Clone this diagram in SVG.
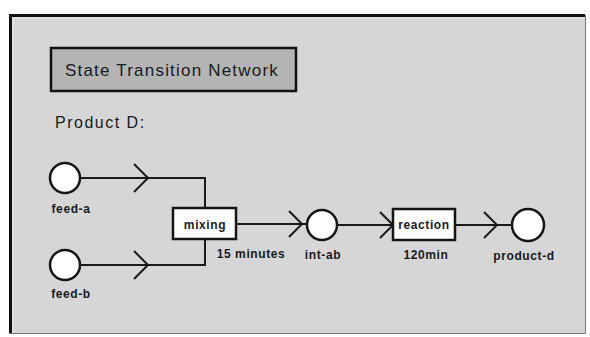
<svg xmlns="http://www.w3.org/2000/svg" width="590" height="337" viewBox="0 0 590 337">
<style>
  .lbl{font-family:"Liberation Sans",Arial,sans-serif;font-weight:bold;font-size:12px;fill:#1a1a1a;text-anchor:middle;letter-spacing:0.6px}
  .node{fill:#fff;stroke:#151515;stroke-width:2.5}
  .box{fill:#fff;stroke:#151515;stroke-width:2.5}
  .wire{fill:none;stroke:#1a1a1a;stroke-width:2}
  .chev{fill:none;stroke:#1a1a1a;stroke-width:2;stroke-linejoin:miter}
</style>
<rect x="0" y="0" width="590" height="337" fill="#ffffff"/>
<rect id="panel" x="9" y="14" width="576" height="319" fill="#d6d6d6"/>
<path d="M10.5,333 L10.5,15.5 L585,15.5" fill="none" stroke="#111" stroke-width="3"/>
<path d="M13,333 L13,18 L585,18" fill="none" stroke="#ececec" stroke-width="1"/>
<path d="M585.5,15 L585.5,333.5 L9,333.5" fill="none" stroke="#777" stroke-width="1"/>

<g id="title">
  <rect x="51" y="48" width="245" height="43" fill="#b4b4b4" stroke="#111" stroke-width="2.5"/>
  <text x="65" y="76" font-family="'Liberation Sans',Arial,sans-serif" font-size="17" fill="#1a1a1a" letter-spacing="1.2">State Transition Network</text>
</g>
<text id="subtitle" x="55" y="128" font-family="'Liberation Sans',Arial,sans-serif" font-size="16" fill="#1a1a1a" letter-spacing="1.5">Product D:</text>

<g id="connectors">
  <path class="wire" d="M80,178 L205,178 L205,208"/>
  <path class="wire" d="M80,265 L205,265 L205,239"/>
  <path class="wire" d="M236,224 L307,224"/>
  <path class="wire" d="M337,225 L393,225"/>
  <path class="wire" d="M455,225 L512,225"/>
  <path class="chev" d="M134,164 L148,178 L134,192"/>
  <path class="chev" d="M134,251 L148,265 L134,279"/>
  <path class="chev" d="M289,211 L302,224 L289,237"/>
  <path class="chev" d="M380,212 L393,225 L380,238"/>
  <path class="chev" d="M484,212 L497,225 L484,238"/>
</g>

<g id="feed-a">
  <circle class="node" cx="65" cy="178" r="15"/>
  <text class="lbl" x="71" y="213">feed-a</text>
</g>
<g id="feed-b">
  <circle class="node" cx="65" cy="265" r="15"/>
  <text class="lbl" x="71" y="298">feed-b</text>
</g>
<g id="mixing">
  <rect class="box" x="173" y="208" width="63" height="31"/>
  <text class="lbl" x="205" y="229">mixing</text>
  <text class="lbl" x="251" y="258">15 minutes</text>
</g>
<g id="int-ab">
  <circle class="node" cx="322" cy="225" r="15"/>
  <text class="lbl" x="323" y="259">int-ab</text>
</g>
<g id="reaction">
  <rect class="box" x="393" y="209" width="62" height="31"/>
  <text class="lbl" x="424" y="229">reaction</text>
  <text class="lbl" x="426" y="259">120min</text>
</g>
<g id="product-d">
  <circle class="node" cx="528" cy="225" r="16"/>
  <text class="lbl" x="524" y="260">product-d</text>
</g>
</svg>
